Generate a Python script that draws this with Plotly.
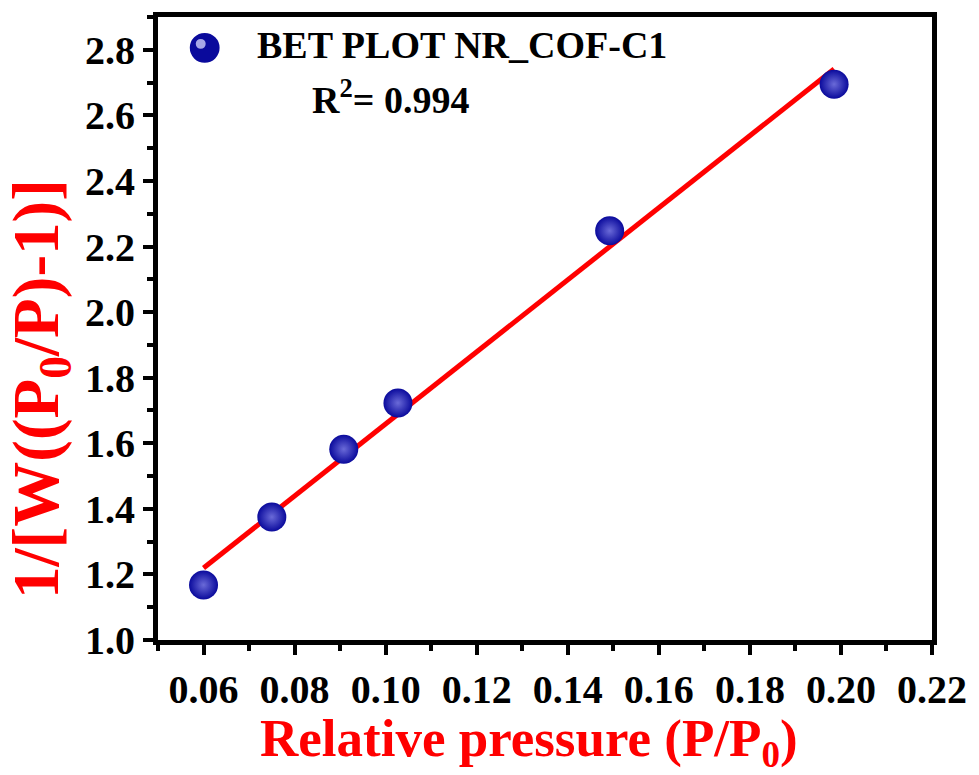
import numpy as np
import plotly.graph_objects as go

# Data
rel_pressure = [0.0600, 0.0750, 0.0908, 0.1027, 0.1492, 0.1985]
bet_value = [1.168, 1.375, 1.582, 1.723, 2.248, 2.695]
series_name = "BET PLOT NR_COF-C1"
r2_text = "R<sup>2</sup>= 0.994"
x_ticks = [0.06, 0.08, 0.10, 0.12, 0.14, 0.16, 0.18, 0.20, 0.22]
y_ticks = [1.0, 1.2, 1.4, 1.6, 1.8, 2.0, 2.2, 2.4, 2.6, 2.8]

slope, intercept = np.polyfit(rel_pressure, bet_value, 1)
fit_x = [min(rel_pressure), max(rel_pressure)]
fit_y = [slope * v + intercept for v in fit_x]

FONT = "Liberation Serif"
NAVY = "#0a0a9c"
RED = "#ff0000"

# plot-area pixel geometry (for placing decorations in paper coordinates)
L, T, W, H = 158, 14, 779, 626
def px(xp):
    return (xp - L) / W
def py(yp):
    return 1 - (yp - T) / H

fig = go.Figure()
fig.add_trace(go.Scatter(
    x=fit_x, y=fit_y, mode="lines",
    line=dict(color=RED, width=5),
    showlegend=False, hoverinfo="skip"))
fig.add_trace(go.Scatter(
    x=rel_pressure, y=bet_value, mode="markers", name=series_name,
    marker=dict(size=29, color=NAVY,
                gradient=dict(type="radial", color="#6a6ad8"),
                line=dict(width=0)),
    showlegend=False,
))

axis_common = dict(
    showline=True, linecolor="black", linewidth=5, mirror=True,
    ticks="outside", ticklen=10, tickwidth=4, tickcolor="black",
    showgrid=False, zeroline=False,
    tickfont=dict(family=FONT, size=40, color="black", weight="bold"),
)

fig.update_xaxes(
    range=[0.05, 0.22], tickvals=x_ticks,
    ticktext=[f"{v:.2f}" for v in x_ticks],
    minor=dict(ticks="outside", ticklen=6, tickwidth=4, tickcolor="black",
               tick0=0.05, dtick=0.02),
    **axis_common)
fig.update_yaxes(
    range=[1.0, 2.9], tickvals=y_ticks,
    ticktext=[f"{v:.1f}" for v in y_ticks],
    minor=dict(ticks="outside", ticklen=6, tickwidth=4, tickcolor="black",
               tick0=1.1, dtick=0.2),
    **axis_common)

# axis titles
fig.add_annotation(
    text="Relative pressure (P/P<sub>0</sub>)", xref="paper", yref="paper",
    x=px(531), y=py(742), xanchor="center", yanchor="middle", showarrow=False,
    font=dict(family=FONT, size=53, color=RED, weight="bold"))
fig.add_annotation(
    text="1/[W((P<sub>0</sub>/P)-1)]", xref="paper", yref="paper",
    x=px(40), y=py(388), xanchor="center", yanchor="middle", showarrow=False,
    textangle=-90,
    font=dict(family=FONT, size=65, color=RED, weight="bold"))

# legend (symbol + label) and R^2 note
fig.add_shape(type="circle", xref="paper", yref="paper",
              x0=px(190), x1=px(220), y0=py(60), y1=py(30),
              fillcolor=NAVY, line=dict(width=0))
fig.add_shape(type="circle", xref="paper", yref="paper",
              x0=px(196), x1=px(206), y0=py(46), y1=py(36),
              fillcolor="#b8b8f0", line=dict(width=0), opacity=0.9)
fig.add_annotation(
    text=series_name, xref="paper", yref="paper", x=px(256), y=py(42),
    xanchor="left", yanchor="middle", showarrow=False,
    font=dict(family=FONT, size=38, color="black", weight="bold"))
fig.add_annotation(
    text=r2_text, xref="paper", yref="paper", x=px(392), y=py(94),
    xanchor="center", yanchor="middle", showarrow=False,
    font=dict(family=FONT, size=38, color="black", weight="bold"))

fig.update_layout(
    width=979, height=775,
    margin=dict(l=L, r=979 - L - W, t=T, b=775 - T - H),
    paper_bgcolor="white", plot_bgcolor="white",
    showlegend=False,
)

fig.write_html("out.html")
